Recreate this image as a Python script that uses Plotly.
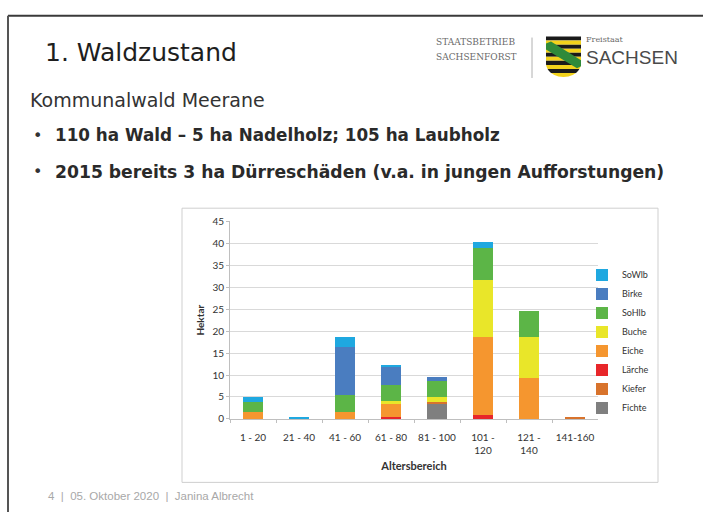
import plotly.graph_objects as go
import numpy as np

# ---------------- data ----------------
categories = ["1 - 20", "21 - 40", "41 - 60", "61 - 80", "81 - 100", "101 - 120", "121 - 140", "141-160"]
tick_labels = ["1 - 20", "21 - 40", "41 - 60", "61 - 80", "81 - 100", "101 -<br>120", "121 -<br>140", "141-160"]

fichte = [0, 0, 0, 0, 3.5, 0, 0, 0]
kiefer = [0, 0, 0, 0, 0.3, 0, 0, 0.2]
laerche = [0, 0, 0, 0.4, 0, 0.8, 0, 0]
eiche = [1.5, 0, 1.6, 3.0, 0, 17.8, 9.4, 0]
buche = [0, 0, 0, 0.8, 1.1, 13.1, 9.3, 0]
sohlb = [2.3, 0, 3.9, 3.5, 3.8, 7.3, 5.9, 0]
birke = [0, 0, 10.9, 4.2, 0.9, 0, 0, 0]
sowlb = [1.3, 0.3, 2.2, 0.3, 0, 1.3, 0, 0]

series_names = ["Fichte", "Kiefer", "Lärche", "Eiche", "Buche", "SoHlb", "Birke", "SoWlb"]
series_values = [fichte, kiefer, laerche, eiche, buche, sohlb, birke, sowlb]
series_colors = ["#7f7f7f", "#d8732c", "#e8262a", "#f5962f", "#e9e629", "#5cb547", "#4a7dc0", "#1fa8e0"]

y_ticks = [0, 5, 10, 15, 20, 25, 30, 35, 40, 45]

W, H = 703, 517
KY = 517.0 / 521.0   # slight vertical squeeze of the photographed page
def px(x):
    return x / W
def py(y):
    return 1 - (y / KY) / H

fig = go.Figure()
for name, vals, col in zip(series_names, series_values, series_colors):
    fig.add_trace(go.Bar(x=categories, y=vals, name=name, marker=dict(color=col, line=dict(width=0)),
                         legendgroup=name))

chart_font = "Lato, 'Open Sans', sans-serif"
fig.update_layout(
    width=W, height=H,
    margin=dict(l=0, r=0, t=0, b=0),
    paper_bgcolor="white", plot_bgcolor="white",
    barmode="stack", bargap=0.57,
    showlegend=True,
    legend=dict(x=px(582), y=py(258), xanchor="left", yanchor="top", traceorder="reversed",
                font=dict(family=chart_font, size=9, color="#333333"), tracegroupgap=5,
                bgcolor="rgba(0,0,0,0)", itemwidth=30),
    xaxis=dict(domain=[px(230), px(598)], type="category", tickvals=categories, ticktext=tick_labels,
               tickfont=dict(family=chart_font, size=10, color="#333333"), ticklabelstandoff=9, tickangle=0,
               showline=True, linecolor="#bfbfbf", linewidth=1, ticks="outside", tickson="boundaries",
               ticklen=3, tickcolor="#bfbfbf", showgrid=False,
               title=dict(text="<b>Altersbereich</b>", font=dict(family=chart_font, size=11, color="#333333"), standoff=7)),
    yaxis=dict(domain=[py(418.7), py(218.3)], range=[0, 45], tickvals=y_ticks,
               tickfont=dict(family=chart_font, size=10, color="#333333"),
               showline=True, linecolor="#bfbfbf", linewidth=1, ticks="outside", ticklen=3, tickcolor="#bfbfbf",
               showgrid=True, gridcolor="#d9d9d9", gridwidth=1, zeroline=False,
               title=dict(text="<b>Hektar</b>", font=dict(family=chart_font, size=10, color="#333333"), standoff=5)),
)

shapes = []
# slide frame (top + left)
shapes.append(dict(type="line", xref="paper", yref="paper", x0=px(8), x1=px(703), y0=py(10), y1=py(10),
                   line=dict(color="#3a3a3a", width=2)))
shapes.append(dict(type="line", xref="paper", yref="paper", x0=px(8), x1=px(8), y0=py(10), y1=0,
                   line=dict(color="#555555", width=2)))
# chart box
shapes.append(dict(type="rect", xref="paper", yref="paper", x0=px(182), x1=px(658), y0=py(205), y1=py(483),
                   line=dict(color="#cfcfcf", width=1), layer="below"))
# logo separator
shapes.append(dict(type="line", xref="paper", yref="paper", x0=px(532), x1=px(532), y0=py(32), y1=py(73),
                   line=dict(color="#b0b0b0", width=1)))

# coat of arms (decoration)
sx0, sx1, sy0, sy1, sy_curve = 546.0, 581.0, 31.0, 72.0, 58.0
cx = (sx0 + sx1) / 2
def half_width(y):
    hw = (sx1 - sx0) / 2
    if y <= sy_curve:
        return hw
    t = (y - sy_curve) / (sy1 - sy_curve)
    return hw * np.sqrt(max(0.0, 1 - t * t))
def band_path(ya, yb):
    ys = np.linspace(ya, yb, 8)
    left = [(cx - half_width(y), y) for y in ys]
    right = [(cx + half_width(y), y) for y in ys[::-1]]
    pts = left + right
    return "M " + " L ".join(f"{px(x):.5f},{py(y):.5f}" for x, y in pts) + " Z"
nb = 10
edges = np.linspace(sy0, sy1, nb + 1)
for i in range(nb):
    col = "#1a1a1a" if i % 2 == 0 else "#f2d21b"
    shapes.append(dict(type="path", xref="paper", yref="paper", path=band_path(edges[i], edges[i + 1]),
                       fillcolor=col, line=dict(width=0)))
# green crown band
cpts = [(546, 38), (551, 36), (581, 55), (581, 61), (577, 63), (546, 44)]
shapes.append(dict(type="path", xref="paper", yref="paper",
                   path="M " + " L ".join(f"{px(x):.5f},{py(y):.5f}" for x, y in cpts) + " Z",
                   fillcolor="#2f8a3a", line=dict(width=0)))
fig.update_layout(shapes=shapes)

ann = []
def text(x, y, s, size, color="#262626", family="Liberation Sans, Arial, sans-serif", weight=None, anchor="left"):
    f = dict(family=family, size=size, color=color)
    if weight:
        f["weight"] = weight
    ann.append(dict(x=px(x), y=py(y), xref="paper", yref="paper", text=s, showarrow=False,
                    xanchor=anchor, yanchor="middle", font=f))

text(43, 47, "1. Waldzustand", 25, color="#1e1e1e", family="DejaVu Sans, sans-serif")
text(434, 37, "STAATSBETRIEB", 9, color="#6a6a6a", family="DejaVu Serif, serif")
text(434, 52, "SACHSENFORST", 9, color="#6a6a6a", family="DejaVu Serif, serif")
text(584, 34, "Freistaat", 8, color="#6a6a6a", family="DejaVu Serif, serif")
text(584, 52, "SACHSEN", 19, color="#4a4a4a", family="Liberation Sans, sans-serif")
text(28, 95, "Kommunalwald Meerane", 19, color="#333333", family="DejaVu Sans, sans-serif")
text(31, 131, "•", 16, color="#333333", family="DejaVu Sans, sans-serif")
text(53, 131, "110 ha Wald – 5 ha Nadelholz; 105 ha Laubholz", 16.8, color="#2a2a2a",
     family="DejaVu Sans, sans-serif", weight="bold")
text(31, 168, "•", 16, color="#333333", family="DejaVu Sans, sans-serif")
text(53, 168, "2015 bereits 3 ha Dürreschäden (v.a. in jungen Aufforstungen)", 17.2, color="#2a2a2a",
     family="DejaVu Sans, sans-serif", weight="bold")
text(46, 497, "4  |  05. Oktober 2020  |  Janina Albrecht", 11.5, color="#a8a8a8")
fig.update_layout(annotations=ann)

post = (
    "document.documentElement.style.margin='0';document.documentElement.style.padding='0';"
    "document.documentElement.style.overflow='hidden';"
    "document.body.style.margin='0';document.body.style.padding='0';document.body.style.overflow='hidden';"
    "var gd=document.getElementById('{plot_id}');gd.style.position='fixed';gd.style.left='0px';gd.style.top='0px';"
)
fig.write_html("out.html", config={"displayModeBar": False}, post_script=post)
